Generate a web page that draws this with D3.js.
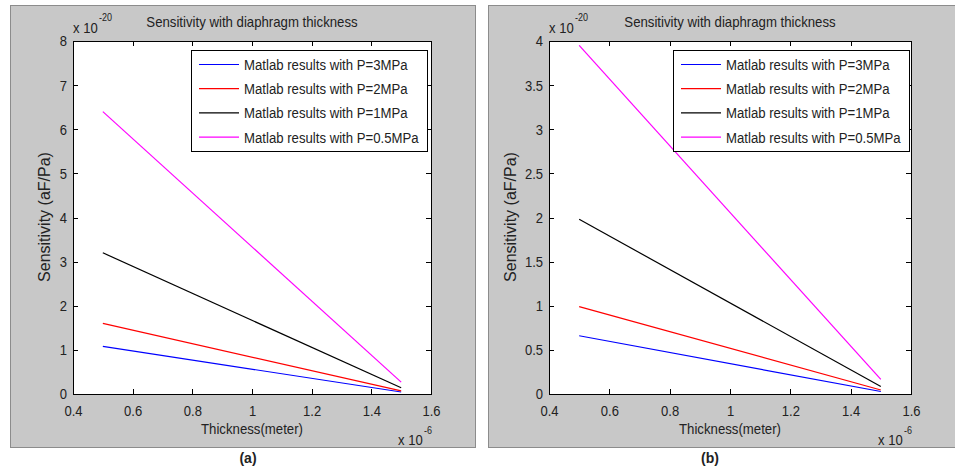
<!DOCTYPE html>
<html>
<head>
<meta charset="utf-8">
<script src="https://cdn.jsdelivr.net/npm/d3@7"></script>
<style>
  body { margin: 0; background: #fff; }
  svg text { font-family: "Liberation Sans", Arial, sans-serif; fill: #222; }
  .axis path, .axis line { stroke: #000; shape-rendering: crispEdges; }
</style>
</head>
<body>
<div id="chart"></div>
<script>

// thickness in units of 1e-6 m
const thickness = [0.5, 1.5]
const legendLabels = ["Matlab results with P=3MPa", "Matlab results with P=2MPa", "Matlab results with P=1MPa", "Matlab results with P=0.5MPa"]
const lineColors = ["#0000ff", "#ff0000", "#000000", "#ff00ff"]

// sensitivity in units of 1e-20 aF/Pa, one array per pressure (3, 2, 1, 0.5 MPa)
const sensA = [[1.08, 0.045], [1.6, 0.07], [3.2, 0.14], [6.4, 0.27]]
const sensB = [[0.66, 0.028], [0.99, 0.045], [1.98, 0.085], [3.95, 0.165]]

const xTicks = [0.4, 0.6, 0.8, 1.0, 1.2, 1.4, 1.6]
const yTicksA = [0, 1, 2, 3, 4, 5, 6, 7, 8]
const yTicksB = [0, 0.5, 1, 1.5, 2, 2.5, 3, 3.5, 4]

const svg = d3.select("#chart").append("svg")
    .attr("width", 955)
    .attr("height", 472)

// squeeze text horizontally, the matlab export font is narrow
function squeeze(sel, k){
    sel.each(function(){
        let len = this.getComputedTextLength()
        if(len > 0){
            d3.select(this).attr("textLength", len * k).attr("lengthAdjust", "spacingAndGlyphs")
        }
    })
}

function drawPanel(cfg){

    let g = svg.append("g")

    //gray figure background
    g.append("rect")
        .attr("x", cfg.box[0] + 0.5).attr("y", cfg.box[1] + 0.5)
        .attr("width", cfg.box[2]).attr("height", cfg.box[3])
        .attr("fill", "#c8c8c8")
        .attr("stroke", "#8c8c8c")

    let m = cfg.plot
    let x = d3.scaleLinear().domain([0.4, 1.6]).range([m.left, m.right])
    let y = d3.scaleLinear().domain(cfg.yDomain).range([m.bottom, m.top])

    g.append("rect")
        .attr("x", m.left).attr("y", m.top)
        .attr("width", m.right - m.left).attr("height", m.bottom - m.top)
        .attr("fill", "#fff")

    //series
    cfg.series.forEach((vals, i) => {
        let pts = thickness.map((t, j) => [t, vals[j]])
        g.append("path")
            .datum(pts)
            .attr("fill", "none")
            .attr("stroke", lineColors[i])
            .attr("stroke-width", 1.2)
            .attr("d", d3.line().x(d => x(d[0])).y(d => y(d[1])))
    })

    //axes, matlab box style with inner ticks
    let bottom = g.append("g").attr("class", "axis")
        .attr("transform", "translate(0," + m.bottom + ")")
        .call(d3.axisBottom(x).tickValues(xTicks).tickFormat(d3.format("")).tickSizeInner(-5).tickSizeOuter(0).tickPadding(11))
    let left = g.append("g").attr("class", "axis")
        .attr("transform", "translate(" + m.left + ",0)")
        .call(d3.axisLeft(y).tickValues(cfg.yTicks).tickFormat(d3.format("")).tickSizeInner(-5).tickSizeOuter(0).tickPadding(6))
    g.append("g").attr("class", "axis")
        .attr("transform", "translate(0," + m.top + ")")
        .call(d3.axisTop(x).tickValues(xTicks).tickFormat("").tickSizeInner(-5).tickSizeOuter(0))
    g.append("g").attr("class", "axis")
        .attr("transform", "translate(" + m.right + ",0)")
        .call(d3.axisRight(y).tickValues(cfg.yTicks).tickFormat("").tickSizeInner(-5).tickSizeOuter(0))

    g.selectAll(".axis text").style("font-size", "15.5px").style("fill", "#222").attr("font-family", null)
    g.selectAll(".axis path").attr("stroke", "#000")
    squeeze(bottom.selectAll("text"), 0.84)
    squeeze(left.selectAll("text"), 0.84)

    let cx = (m.left + m.right) / 2

    //title
    g.append("text")
        .attr("class", "lbl")
        .attr("x", cx).attr("y", 27)
        .attr("text-anchor", "middle")
        .style("font-size", "15px")
        .text("Sensitivity with diaphragm thickness")

    //exponent labels
    let exps = []
    exps.push(g.append("text").attr("x", m.left).attr("y", 33).style("font-size", "14.5px").text("x 10"))
    exps.push(g.append("text").attr("x", m.left + 26).attr("y", 21).style("font-size", "10px").text("-20"))
    exps.push(g.append("text").attr("x", m.right - 33).attr("y", 445).style("font-size", "14.5px").text("x 10"))
    exps.push(g.append("text").attr("x", m.right - 7).attr("y", 434).style("font-size", "10px").text("-6"))

    //axis labels
    g.append("text")
        .attr("class", "lbl")
        .attr("x", cx).attr("y", 434)
        .attr("text-anchor", "middle")
        .style("font-size", "15px")
        .text("Thickness(meter)")

    g.append("text")
        .attr("transform", "translate(" + (m.left - cfg.ylabelOffset) + "," + 217 + ") rotate(-90)")
        .attr("text-anchor", "middle")
        .style("font-size", "16px")
        .text("Sensitivity (aF/Pa)")

    //legend
    let lg = cfg.legend
    g.append("rect")
        .attr("x", lg.x + 0.5).attr("y", lg.y + 0.5)
        .attr("width", lg.w).attr("height", lg.h)
        .attr("fill", "#fff")
        .attr("stroke", "#000")

    legendLabels.forEach((label, i) => {
        let ly = lg.y + 14.5 + i * 24.2
        g.append("line")
            .attr("x1", lg.x + 8).attr("x2", lg.x + 48)
            .attr("y1", ly).attr("y2", ly)
            .attr("stroke", lineColors[i])
            .attr("stroke-width", 1.2)
        g.append("text")
            .attr("class", "leg")
            .attr("x", lg.x + 53).attr("y", ly + 5.5)
            .style("font-size", "15.5px")
            .text(label)
    })

    squeeze(g.selectAll(".lbl"), 0.88)
    squeeze(g.selectAll(".leg"), 0.85)
    exps.forEach(e => squeeze(e, 0.9))

    //caption under figure
    g.append("text")
        .attr("x", cfg.caption).attr("y", 463)
        .attr("text-anchor", "middle")
        .style("font-size", "14px")
        .style("font-weight", "bold")
        .text(cfg.captionText)
}

drawPanel({
    box: [10, 5, 465, 442],
    plot: {left: 73, top: 41, right: 431, bottom: 394},
    yDomain: [0, 8],
    yTicks: yTicksA,
    series: sensA,
    ylabelOffset: 23,
    legend: {x: 191, y: 50, w: 236, h: 101},
    caption: 248,
    captionText: "(a)"
})

drawPanel({
    box: [488, 5, 470, 442],
    plot: {left: 549, top: 41, right: 911, bottom: 394},
    yDomain: [0, 4],
    yTicks: yTicksB,
    series: sensB,
    ylabelOffset: 33,
    legend: {x: 673, y: 50, w: 236, h: 101},
    caption: 710,
    captionText: "(b)"
})

</script>
</body>
</html>
